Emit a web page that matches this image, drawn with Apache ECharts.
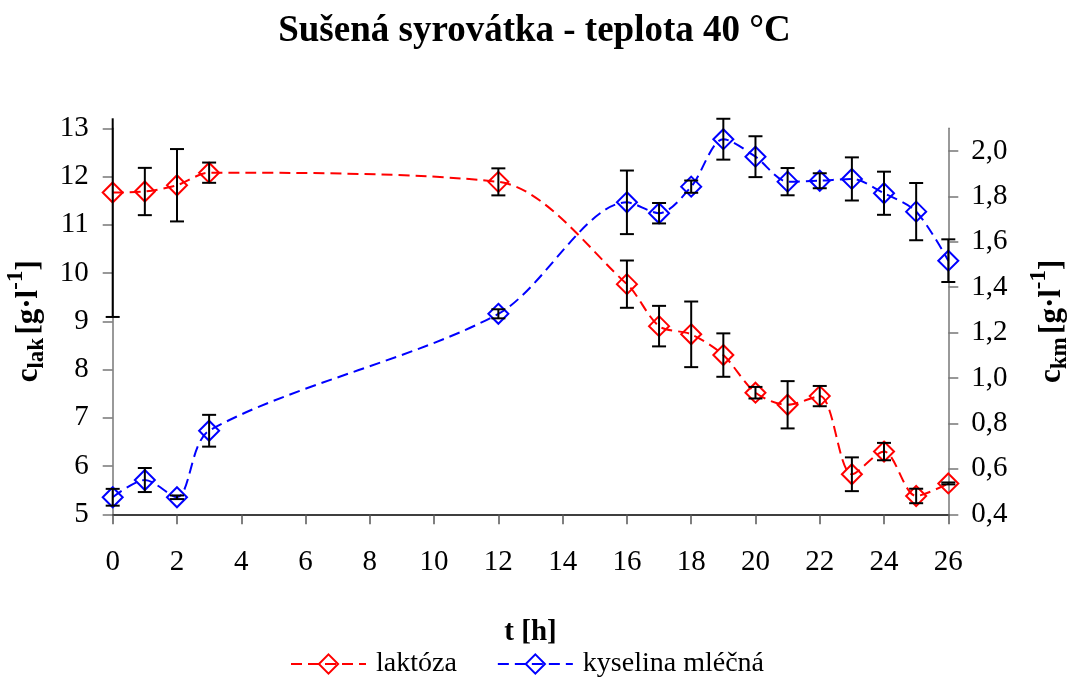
<!DOCTYPE html>
<html>
<head>
<meta charset="utf-8">
<script src="https://cdn.jsdelivr.net/npm/echarts@6/dist/echarts.min.js"></script>
<style>
html,body{margin:0;padding:0;background:#fff;}
#chart{width:1069px;height:677px;}
</style>
</head>
<body>
<div id="chart"></div>
<script>
const times = [0, 1, 2, 3, 12, 16, 17, 18, 19, 20, 21, 22, 23, 24, 25, 26];
const lactose = [11.67, 11.69, 11.82, 12.08, 11.89, 9.77, 8.90, 8.73, 8.30, 7.52, 7.27, 7.45, 5.83, 6.30, 5.38, 5.64];
const lactoseErr = [2.58, 0.49, 0.75, 0.21, 0.28, 0.49, 0.42, 0.68, 0.45, 0.12, 0.49, 0.21, 0.35, 0.18, 0.15, 0.02];
const lacticAcid = [0.475, 0.551, 0.475, 0.768, 1.283, 1.774, 1.726, 1.843, 2.052, 1.975, 1.865, 1.869, 1.877, 1.814, 1.733, 1.517];
const lacticAcidErr = [0.037, 0.053, 0.008, 0.070, 0.020, 0.140, 0.045, 0.027, 0.090, 0.090, 0.060, 0.033, 0.095, 0.095, 0.126, 0.094];
const rightTicks = [0.4, 0.6, 0.8, 1.0, 1.2, 1.4, 1.6, 1.8, 2.0];
const seriesNames = ['laktóza', 'kyselina mléčná'];

const FONT = 'Liberation Serif';

function errorBarRenderer(params, api) {
  const x = api.value(0), y = api.value(1), e = api.value(2);
  const cs = params.coordSys;
  const limitTop = cs.y - 10;
  const hi = api.coord([x, y + e]);
  const lo = api.coord([x, y - e]);
  const cap = 7;
  const style = { stroke: '#000', lineWidth: 2 };
  let topY = hi[1];
  const clipped = topY < limitTop;
  if (clipped) topY = limitTop;
  const children = [
    { type: 'line', shape: { x1: hi[0], y1: topY, x2: lo[0], y2: lo[1] }, style: style }
  ];
  if (!clipped) children.push({ type: 'line', shape: { x1: hi[0] - cap, y1: hi[1], x2: hi[0] + cap, y2: hi[1] }, style: style });
  children.push({ type: 'line', shape: { x1: lo[0] - cap, y1: lo[1], x2: lo[0] + cap, y2: lo[1] }, style: style });
  return { type: 'group', children: children };
}

const richName = {
  b: { fontFamily: FONT, fontWeight: 'bold', fontSize: 31, lineHeight: 31, padding: [9, 0, 0, 0], verticalAlign: 'top', color: '#000' },
  s: { fontFamily: FONT, fontWeight: 'bold', fontSize: 23, lineHeight: 23, padding: [21, 0, 0, 0], verticalAlign: 'top', color: '#000' },
  p: { fontFamily: FONT, fontWeight: 'bold', fontSize: 23, lineHeight: 23, padding: [0, 0, 0, 0], verticalAlign: 'top', color: '#000' }
};

const chart = echarts.init(document.getElementById('chart'), null, { renderer: 'canvas' });
chart.setOption({
  animation: false,
  backgroundColor: '#fff',
  title: {
    text: 'Sušená syrovátka - teplota 40 °C',
    left: 'center',
    top: 13,
    padding: [0, 9, 0, 0],
    textStyle: { fontFamily: FONT, fontWeight: 'bold', fontSize: 37, color: '#000' }
  },
  legend: {
    data: seriesNames,
    left: 290,
    top: 650,
    padding: 0,
    itemWidth: 75,
    itemHeight: 24,
    itemGap: 40,
    textStyle: { fontFamily: FONT, fontSize: 28, color: '#000', padding: [0, 0, 0, 5] }
  },
  grid: { left: 112.7, right: 120.7, top: 128.3, bottom: 162.7, containLabel: false, outerBoundsMode: 'none' },
  xAxis: {
    type: 'value', min: 0, max: 26, interval: 2,
    name: 't [h]', nameLocation: 'middle', nameGap: 104,
    nameTextStyle: { fontFamily: FONT, fontWeight: 'bold', fontSize: 29, color: '#000' },
    axisLine: { show: true, lineStyle: { color: '#000', width: 1.5 } },
    axisTick: { show: true, inside: false, length: 10, lineStyle: { color: '#555', width: 1.5 } },
    axisLabel: { fontFamily: FONT, fontSize: 29, color: '#000', margin: 34 },
    splitLine: { show: false }
  },
  yAxis: [
    {
      type: 'value', min: 5, max: 13, interval: 1, position: 'left',
      name: '{b|c}{s|lak} {b|[g·l}{p|-1}{b|]}', nameLocation: 'middle', nameGap: 70, nameRotate: 90,
      nameTextStyle: { rich: richName },
      axisLine: { show: true, lineStyle: { color: '#777', width: 1.5 } },
      axisTick: { show: true, inside: false, length: 10, lineStyle: { color: '#777', width: 1.5 } },
      axisLabel: { fontFamily: FONT, fontSize: 29, color: '#000', margin: 24 },
      splitLine: { show: false }
    },
    {
      type: 'value', min: 0.4, max: 2.1, interval: 0.2, position: 'right',
      name: '{b|c}{s|km} {b|[g·l}{p|-1}{b|]}', nameLocation: 'middle', nameGap: 79, nameRotate: 90,
      nameTextStyle: { rich: richName },
      axisLine: { show: true, lineStyle: { color: '#777', width: 1.5 } },
      axisTick: { show: true, inside: false, length: 10, customValues: rightTicks, lineStyle: { color: '#777', width: 1.5 } },
      axisLabel: {
        fontFamily: FONT, fontSize: 29, color: '#000', margin: 23, customValues: rightTicks,
        formatter: function (v) { return v.toFixed(1).replace('.', ','); }
      },
      splitLine: { show: false }
    }
  ],
  series: [
    {
      name: seriesNames[0], type: 'line', yAxisIndex: 0,
      data: times.map(function (t, i) { return [t, lactose[i]]; }),
      smooth: 0.3,
      symbol: 'diamond', symbolSize: 20, showAllSymbol: true,
      lineStyle: { color: '#ff0000', width: 2, type: [11, 6] },
      itemStyle: { color: 'rgba(255,255,255,0)', borderColor: '#ff0000', borderWidth: 2 },
      z: 3
    },
    {
      name: seriesNames[1], type: 'line', yAxisIndex: 1,
      data: times.map(function (t, i) { return [t, lacticAcid[i]]; }),
      smooth: 0.3,
      symbol: 'diamond', symbolSize: 20, showAllSymbol: true,
      lineStyle: { color: '#0000ff', width: 2, type: [11, 6] },
      itemStyle: { color: 'rgba(255,255,255,0)', borderColor: '#0000ff', borderWidth: 2 },
      z: 3
    },
    {
      name: 'err-lak', type: 'custom', yAxisIndex: 0,
      data: times.map(function (t, i) { return [t, lactose[i], lactoseErr[i]]; }),
      encode: { x: 0, y: 1 },
      renderItem: errorBarRenderer, z: 5, silent: true
    },
    {
      name: 'err-km', type: 'custom', yAxisIndex: 1,
      data: times.map(function (t, i) { return [t, lacticAcid[i], lacticAcidErr[i]]; }),
      encode: { x: 0, y: 1 },
      renderItem: errorBarRenderer, z: 5, silent: true
    }
  ]
});
</script>
</body>
</html>
